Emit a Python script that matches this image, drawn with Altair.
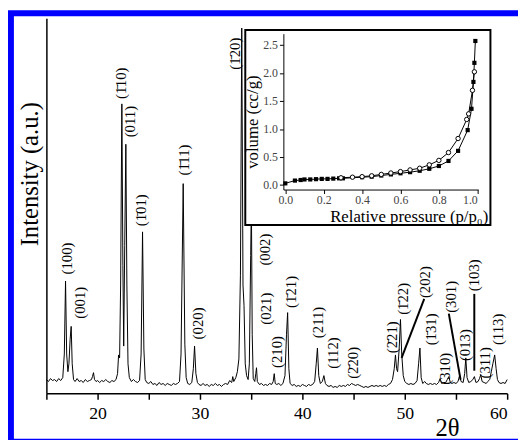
import altair as alt
import pandas as pd

FONT = "Liberation Serif"

# ---------------- XRD pattern (2theta, intensity in arbitrary units) ----------------
two_theta = [
    15.0, 15.2, 15.4, 15.6, 15.8, 16.0, 16.2, 16.4, 16.6, 16.75, 16.87, 16.98, 17.1, 17.2,
    17.32, 17.42, 17.52, 17.65, 17.8, 18.0, 18.2, 18.4, 18.6, 18.8, 19.0, 19.2, 19.4, 19.5,
    19.6, 19.7, 19.85, 20.0, 20.2, 20.4, 20.6, 20.8, 21.0, 21.2, 21.4, 21.6, 21.8, 21.95,
    22.05, 22.15, 22.25, 22.37, 22.47, 22.55, 22.65, 22.76, 22.86, 22.97, 23.1, 23.3, 23.5,
    23.7, 23.9, 24.1, 24.25, 24.39, 24.52, 24.65, 24.8, 25.0, 25.2, 25.4, 25.6, 25.8, 26.0,
    26.2, 26.4, 26.6, 26.8, 27.0, 27.2, 27.4, 27.6, 27.8, 28.0, 28.15, 28.36, 28.52, 28.65,
    28.8, 29.0, 29.2, 29.35, 29.47, 29.6, 29.75, 29.9, 30.1, 30.3, 30.5, 30.7, 30.9, 31.1,
    31.3, 31.5, 31.7, 31.9, 32.1, 32.3, 32.5, 32.7, 32.9, 33.1, 33.2, 33.3, 33.5, 33.65,
    33.8, 33.95, 34.08, 34.2, 34.3, 34.42, 34.55, 34.7, 34.82, 34.95, 35.02, 35.1, 35.2,
    35.35, 35.45, 35.52, 35.6, 35.8, 36.0, 36.2, 36.4, 36.6, 36.8, 37.0, 37.15, 37.25,
    37.35, 37.5, 37.7, 37.9, 38.1, 38.3, 38.45, 38.56, 38.68, 38.8, 39.0, 39.2, 39.4, 39.6,
    39.8, 40.0, 40.2, 40.4, 40.6, 40.8, 41.0, 41.2, 41.35, 41.47, 41.6, 41.75, 41.95, 42.1,
    42.25, 42.4, 42.6, 42.8, 43.0, 43.2, 43.4, 43.6, 43.8, 44.0, 44.2, 44.4, 44.6, 44.8,
    45.0, 45.2, 45.4, 45.6, 45.8, 46.0, 46.2, 46.4, 46.6, 46.8, 47.0, 47.2, 47.4, 47.6,
    47.8, 48.0, 48.2, 48.4, 48.6, 48.8, 48.97, 49.09, 49.2, 49.3, 49.45, 49.58, 49.7, 49.85,
    50.0, 50.2, 50.4, 50.6, 50.8, 51.0, 51.2, 51.35, 51.48, 51.6, 51.75, 51.95, 52.1, 52.3,
    52.5, 52.7, 52.9, 53.1, 53.3, 53.45, 53.6, 53.8, 54.0, 54.15, 54.3, 54.45, 54.6, 54.8,
    55.0, 55.2, 55.35, 55.5, 55.7, 55.85, 55.96, 56.08, 56.25, 56.45, 56.65, 56.8, 56.95,
    57.15, 57.3, 57.42, 57.55, 57.75, 57.95, 58.1, 58.3, 58.45, 58.6, 58.78, 58.92, 59.05,
    59.2, 59.4, 59.6, 59.8, 60.0,
]
intensity = [
    14, 12, 15, 13, 14, 12, 15, 13, 16, 40, 114, 40, 22, 30,
    55, 68, 30, 14, 12, 15, 12, 13, 11, 14, 12, 13, 14, 17,
    21, 14, 12, 13, 11, 13, 12, 14, 12, 11, 13, 12, 14, 20,
    39, 36, 110, 294, 130, 48, 150, 253, 110, 30, 16, 12, 14,
    12, 11, 13, 40, 164, 45, 14, 11, 10, 12, 9, 10, 8, 11,
    9, 10, 8, 10, 9, 8, 10, 9, 10, 12, 40, 213, 50, 16,
    10, 9, 11, 25, 48, 20, 11, 9, 8, 10, 8, 9, 7, 9,
    8, 10, 8, 9, 7, 9, 10, 9, 13, 11, 17, 12, 16, 22,
    35, 120, 371, 110, 89, 30, 18, 14, 30, 140, 195, 60, 15,
    12, 20, 26, 12, 9, 10, 8, 9, 8, 10, 9, 12, 20,
    10, 9, 10, 8, 10, 18, 60, 82, 25, 10, 8, 9, 7, 8,
    7, 9, 8, 7, 9, 8, 9, 12, 30, 46, 18, 10, 12, 18,
    10, 8, 7, 8, 6, 7, 6, 8, 7, 8, 7, 9, 8, 10,
    9, 8, 9, 8, 7, 6, 7, 6, 7, 8, 7, 8, 7, 8,
    7, 8, 7, 9, 10, 14, 25, 39, 25, 22, 45, 75, 40, 18,
    12, 10, 9, 10, 9, 10, 13, 30, 46, 16, 10, 12, 10, 9,
    10, 9, 10, 9, 11, 15, 10, 11, 11, 14, 17, 11, 10, 11,
    10, 12, 18, 12, 11, 20, 36, 16, 11, 12, 14, 17, 11,
    12, 15, 19, 12, 11, 10, 12, 14, 22, 30, 39, 25, 14,
    11, 10, 11, 10, 14,
]

# ---------------- peak labels ----------------
label_text = [
    "(100)", "(001)", "(1\u030410)", "(011)", "(1\u030401)", "(1\u030411)", "(020)",
    "(1\u030420)", "(002)", "(021)", "(210)", "(1\u030421)", "(211)", "(112)",
    "(2\u030420)", "(2\u030421)", "(1\u030422)", "(202)", "(1\u030431)", "(310)",
    "(301)", "(013)", "(103)", "(311)", "(113)",
]
label_x = [
    17.02, 18.31, 22.34, 23.21, 24.26, 28.44, 29.83,
    33.38, 36.35, 36.45, 37.51, 38.85, 41.54, 42.98,
    44.99, 48.73, 49.79, 51.99, 52.57, 53.91,
    54.49, 55.93, 56.79, 57.85, 59.10,
]
label_y = [
    137, 92, 315, 276, 186, 237, 71,
    345, 146, 86, 42, 103, 72, 41,
    31, 57, 96, 113, 65, 25,
    98, 49, 120, 31, 65,
]

# leader lines from labels to peaks
leader_x = [51.90, 54.30, 56.79]
leader_y = [96, 81, 101]
leader_x2 = [49.69, 55.45, 56.79]
leader_y2 = [36, 14, 23]

# ---------------- inset: N2 isotherm ----------------
p_ads = [0.0, 0.05, 0.08, 0.10, 0.13, 0.16, 0.19, 0.22, 0.25, 0.28, 0.30, 0.40, 0.45,
         0.50, 0.55, 0.60, 0.65, 0.70, 0.75, 0.80, 0.85, 0.90, 0.95, 0.97, 0.98, 0.985, 0.99]
v_ads = [0.03, 0.08, 0.09, 0.10, 0.10, 0.105, 0.11, 0.11, 0.115, 0.12, 0.12, 0.14, 0.15,
         0.17, 0.19, 0.21, 0.23, 0.255, 0.29, 0.34, 0.43, 0.61, 0.98, 1.36, 1.84, 2.18, 2.57]
p_des = [0.29, 0.35, 0.40, 0.45, 0.50, 0.55, 0.60, 0.65, 0.70, 0.75, 0.80, 0.85, 0.90,
         0.945, 0.955, 0.975, 0.985]
v_des = [0.13, 0.14, 0.15, 0.165, 0.19, 0.215, 0.24, 0.27, 0.30, 0.36, 0.44, 0.58, 0.83,
         1.17, 1.27, 1.69, 2.02]

xrd = pd.DataFrame({"t": two_theta, "i": intensity})
labels = pd.DataFrame({"txt": label_text, "t": label_x, "i": label_y})
leaders = pd.DataFrame({"t": leader_x, "i": leader_y, "t2": leader_x2, "i2": leader_y2})
ads = pd.DataFrame({"p": p_ads, "v": v_ads, "branch": "ads"})
des = pd.DataFrame({"p": p_des, "v": v_des, "branch": "des"})
iso = pd.concat([ads, des], ignore_index=True)
one = pd.DataFrame({"a": [0]})

W, H = 468, 381

xs = alt.Scale(domain=[15, 60], nice=False, zero=False)
ys = alt.Scale(domain=[0, 381], nice=False, zero=False)

x_axis = alt.Axis(
    values=list(range(15, 61, 5)),
    labelExpr="datum.value % 10 == 0 ? datum.label : ''",
    format="d", grid=False,
    domainColor="black", domainWidth=1.5, tickColor="black", tickWidth=1.5, tickSize=6,
    labelFont=FONT, labelFontSize=18, labelColor="black", labelPadding=6,
    title="2\u03b8", titleFont=FONT, titleFontSize=25, titleFontWeight="normal",
    titleColor="black", titleX=407, titleY=48, titleAlign="center", titleBaseline="bottom",
)
y_axis = alt.Axis(
    labels=False, ticks=False, grid=False, domainColor="black", domainWidth=1.5,
    title="Intensity (a.u.)", titleFont=FONT, titleFontSize=25, titleFontWeight="normal",
    titleColor="black", titleAngle=270, titleX=-17, titleY=158, titleAlign="center",
    titleBaseline="middle",
)

line = alt.Chart(xrd).mark_line(color="black", strokeWidth=1).encode(
    x=alt.X("t:Q", scale=xs, axis=x_axis),
    y=alt.Y("i:Q", scale=ys, axis=y_axis),
)
text = alt.Chart(labels).mark_text(
    angle=270, font=FONT, fontSize=15, align="center", baseline="middle", color="black"
).encode(x="t:Q", y="i:Q", text="txt:N")
rules = alt.Chart(leaders).mark_rule(color="black", strokeWidth=2).encode(
    x="t:Q", y="i:Q", x2="t2:Q", y2="i2:Q"
)
main = alt.layer(line, rules, text)

# ---------------- inset ----------------
frame = alt.Chart(one).mark_rect(fill="white", stroke="black", strokeWidth=2).encode(
    x=alt.value(202), x2=alt.value(451), y=alt.value(12), y2=alt.value(210)
)
ixs = alt.Scale(domain=[-0.01, 1.005], range=[240.7, 438.6], nice=False, zero=False)
iys = alt.Scale(domain=[-0.08, 2.7], range=[174, 15.7], nice=False, zero=False)
ix_axis = alt.Axis(
    orient="bottom", offset=-207, values=[0, 0.2, 0.4, 0.6, 0.8, 1.0], format=".1f",
    grid=False, domainColor="black", domainWidth=1, tickColor="black", tickSize=4,
    labelFont=FONT, labelFontSize=12, labelColor="#444", labelPadding=1, zindex=2,
    title="Relative pressure (p/p\u2080)", titleFont=FONT, titleFontSize=17,
    titleFontWeight="normal", titleColor="black", titleX=368, titleY=32,
    titleAlign="center", titleBaseline="alphabetic",
)
iy_axis = alt.Axis(
    orient="left", offset=-240.7, values=[0, 0.5, 1.0, 1.5, 2.0, 2.5], format=".1f",
    grid=False, domainColor="black", domainWidth=1, tickColor="black", tickSize=4,
    labelFont=FONT, labelFontSize=12, labelColor="#444", labelPadding=2, zindex=2,
    title="volume (cc/g)", titleFont=FONT, titleFontSize=17, titleFontWeight="normal",
    titleColor="black", titleAngle=270, titleX=-31, titleY=105, titleAlign="center",
    titleBaseline="middle",
)
iso_line = alt.Chart(iso).mark_line(color="black", strokeWidth=1).encode(
    x=alt.X("p:Q", scale=ixs, axis=ix_axis),
    y=alt.Y("v:Q", scale=iys, axis=iy_axis),
    detail="branch:N",
)
ads_pts = alt.Chart(ads).mark_point(
    shape="square", filled=True, color="black", size=18, opacity=1
).encode(x="p:Q", y="v:Q")
des_pts = alt.Chart(des).mark_point(
    shape="circle", filled=False, fill="white", stroke="black", strokeWidth=1, size=20, opacity=1
).encode(x="p:Q", y="v:Q")
inset = alt.layer(frame, iso_line, ads_pts, des_pts)

border = alt.Chart(one).mark_rect(fill=None, stroke="#0000ff", strokeWidth=6).encode(
    x=alt.value(-36), x2=alt.value(500), y=alt.value(-5), y2=alt.value(430)
)

chart = (
    alt.layer(main, inset, border)
    .resolve_scale(x="independent", y="independent")
    .resolve_axis(x="independent", y="independent")
    .properties(
        width=W, height=H, background="white",
        padding={"left": 39, "top": 7, "right": 11, "bottom": 44},
        autosize=alt.AutoSizeParams(type="none"),
    )
    .configure_view(stroke=None)
)

chart.save("out.html", embed_options={"renderer": "svg", "actions": False})
